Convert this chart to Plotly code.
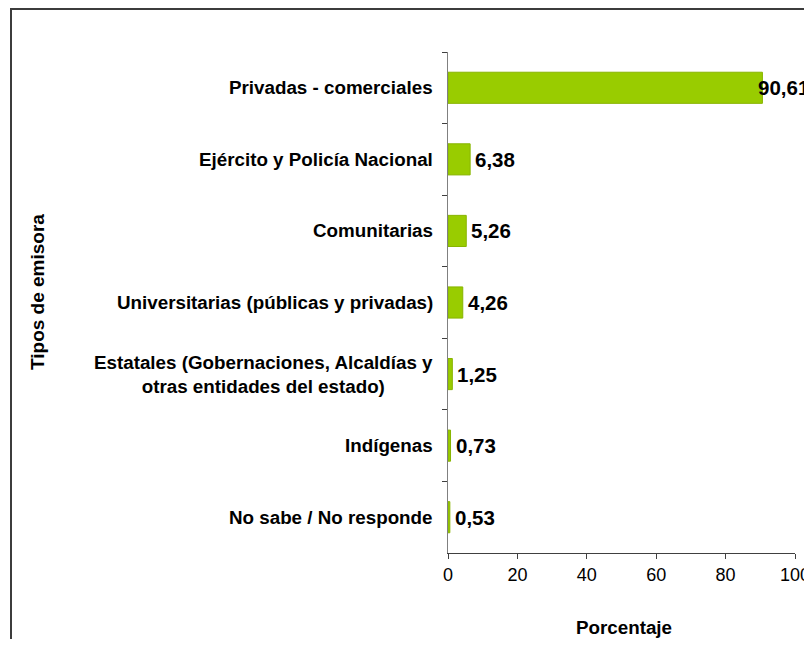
import plotly.graph_objects as go

categorias = [
    "Privadas - comerciales",
    "Ejército y Policía Nacional",
    "Comunitarias",
    "Universitarias (públicas y privadas)",
    "Estatales (Gobernaciones, Alcaldías y<br>otras entidades del estado)",
    "Indígenas",
    "No sabe / No responde",
]
porcentajes = [90.61, 6.38, 5.26, 4.26, 1.25, 0.73, 0.53]
etiquetas = ["90,61", "6,38", "5,26", "4,26", "1,25", "0,73", "0,53"]
x_ticks = [0, 20, 40, 60, 80, 100]

# page body has an 8px margin; figure sized to fit the 812x647 window
OFF = 8
W, H = 812 - OFF, 647 - 2 * OFF
ML, MT = 448 - OFF, 52 - OFF
PW = 347
PH = 501
MR = W - ML - PW
MB = H - MT - PH


def px_x(p):  # window pixel -> paper x
    return (p - OFF - ML) / PW


def px_y(p):  # window pixel -> paper y
    return (MT + PH - (p - OFF)) / PH


FONT = "Liberation Sans, Arial, sans-serif"

fig = go.Figure()
fig.add_trace(go.Bar(
    x=porcentajes,
    y=categorias,
    orientation="h",
    marker=dict(color="#99cc00", line=dict(color="#88b400", width=1)),
    hoverinfo="x+y",
))

annotations = []
for cat in categorias:
    annotations.append(dict(
        x=0, xref="paper", y=cat, yref="y", text="<b>%s</b>" % cat,
        xanchor="right", yanchor="middle", xshift=-13, align="center",
        showarrow=False, font=dict(family=FONT, size=18.8, color="#000"),
    ))
for v, cat, lab in zip(porcentajes, categorias, etiquetas):
    annotations.append(dict(
        x=v, xref="x", y=cat, yref="y", text="<b>%s</b>" % lab,
        xanchor="left", yanchor="middle", xshift=(-6 if v > 85 else 3),
        showarrow=False, font=dict(family=FONT, size=20.5, color="#000"),
    ))
annotations.append(dict(
    x=px_x(37), xref="paper", y=px_y(292), yref="paper",
    text="<b>Tipos de emisora</b>", textangle=-90, showarrow=False,
    xanchor="center", yanchor="middle",
    font=dict(family=FONT, size=19, color="#000"),
))
annotations.append(dict(
    x=px_x(624), xref="paper", y=px_y(627), yref="paper",
    text="<b>Porcentaje</b>", showarrow=False,
    xanchor="center", yanchor="middle",
    font=dict(family=FONT, size=18.8, color="#000"),
))

fig.update_layout(
    width=W, height=H,
    margin=dict(l=ML, r=MR, t=MT, b=MB, pad=0, autoexpand=False),
    paper_bgcolor="white", plot_bgcolor="white",
    showlegend=False,
    bargap=0.565,
    annotations=annotations,
    shapes=[dict(
        type="rect", xref="paper", yref="paper",
        x0=px_x(11), x1=px_x(900), y0=px_y(760), y1=px_y(9),
        line=dict(color="#3c3c3c", width=2), fillcolor="rgba(0,0,0,0)",
        layer="below",
    )],
    xaxis=dict(
        range=[0, 100], tickvals=x_ticks, ticktext=[str(t) for t in x_ticks],
        showgrid=False, zeroline=False, showline=True, automargin=False,
        linecolor="#404040", linewidth=1,
        ticks="outside", ticklen=5, tickcolor="#404040",
        tickfont=dict(family=FONT, size=18, color="#000"),
        fixedrange=True,
    ),
    yaxis=dict(
        autorange="reversed", showgrid=False, zeroline=False, automargin=False,
        showline=True, linecolor="#808080", linewidth=1,
        ticks="outside", ticklen=5, tickcolor="#404040",
        tickson="boundaries", showticklabels=False,
        fixedrange=True,
    ),
)

fig.write_html("out.html")
